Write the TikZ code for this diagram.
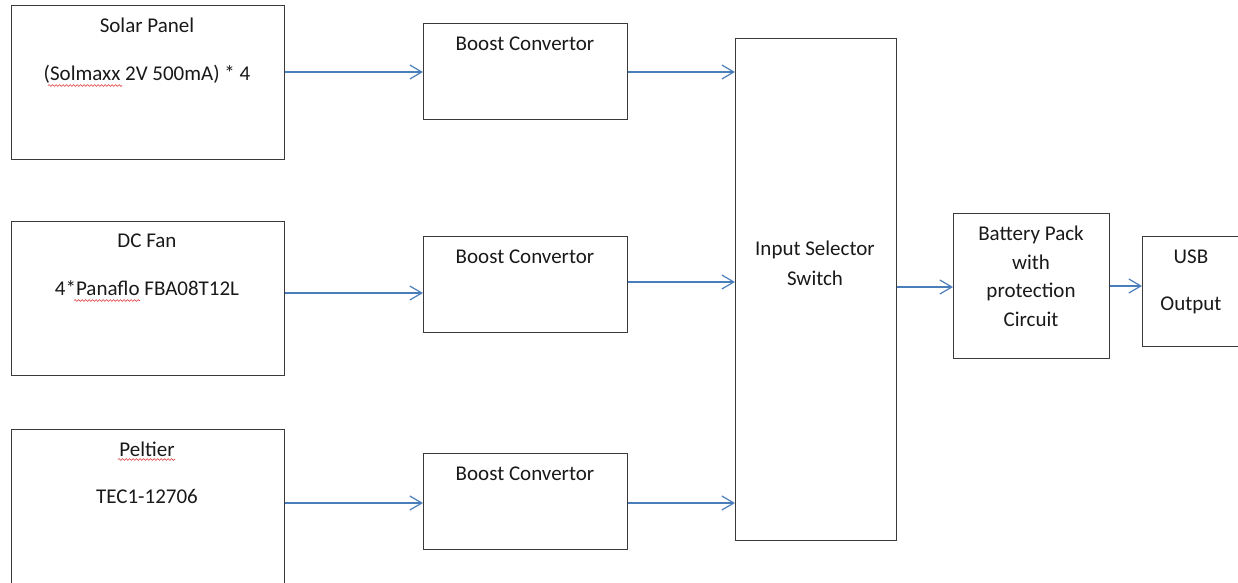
\documentclass[tikz,border=0pt]{standalone}
\usepackage{fontspec}
\setmainfont{Carlito}
\usetikzlibrary{arrows.meta,decorations.pathmorphing}
\definecolor{boxgray}{HTML}{3A3A3A}
\definecolor{arrblue}{HTML}{4A7EBB}
\definecolor{squigred}{HTML}{E03030}
\begin{document}
\begin{tikzpicture}[x=1pt,y=-1pt,
  box/.style={draw=boxgray,line width=1.4pt,inner sep=0pt,anchor=north west,fill=none},
  txt/.style={inner sep=0pt,anchor=base,font=\fontsize{21}{25}\selectfont,text=black!90},
  arr/.style={draw=arrblue,line width=1.2pt,-{Straight Barb[length=12pt,width=14pt,line width=1.2pt]}},
  squig/.style={draw=squigred,line width=0.6pt,decorate,decoration={snake,amplitude=0.9pt,segment length=3.5pt}}]
\useasboundingbox (0,0) rectangle (1238,582);
\clip (0,0) rectangle (1238,582);
% boxes
\node[box,minimum width=273pt,minimum height=154pt] (solar) at (11,5) {};
\node[box,minimum width=273pt,minimum height=154pt] (fan) at (11,221) {};
\node[box,minimum width=273pt,minimum height=200pt] (peltier) at (11,429) {};
\node[box,minimum width=204pt,minimum height=96pt] (boost1) at (423,23) {};
\node[box,minimum width=204pt,minimum height=96pt] (boost2) at (423,236) {};
\node[box,minimum width=204pt,minimum height=96pt] (boost3) at (423,453) {};
\node[box,minimum width=161pt,minimum height=502pt] (selector) at (735,38) {};
\node[box,minimum width=156pt,minimum height=145pt] (battery) at (953,213) {};
\node[box,minimum width=100pt,minimum height=110pt] (usb) at (1142,236) {};
% texts
\node[txt] (solarT1) at (147,32) {Solar Panel};
\node[txt] (solarT2) at (147,80) {(Solmaxx 2V 500mA) * 4};
\node[txt] (fanT1) at (147,247) {DC Fan};
\node[txt] (fanT2) at (147,295) {4*Panaflo FBA08T12L};
\node[txt] (peltT1) at (147,456) {Peltier};
\node[txt] (peltT2) at (147,503) {TEC1-12706};
\node[txt] (boost1T) at (525,50) {Boost Convertor};
\node[txt] (boost2T) at (525,263) {Boost Convertor};
\node[txt] (boost3T) at (525,480) {Boost Convertor};
\node[txt] (selT1) at (815,255) {Input Selector};
\node[txt] (selT2) at (815,285) {Switch};
\node[txt] (batT1) at (1031,240) {Battery Pack};
\node[txt] (batT2) at (1031,269) {with};
\node[txt] (batT3) at (1031,297) {protection};
\node[txt] (batT4) at (1031,326) {Circuit};
\node[txt] (usbT1) at (1191,263) {USB};
\node[txt] (usbT2) at (1191,310) {Output};
% spell-check underlines
\draw[squig] (48,85.5) -- (122,85.5);
\draw[squig] (74,300.5) -- (140,300.5);
\draw[squig] (118,459.5) -- (175,459.5);
% connector heights
\coordinate (yA) at (0,72);
\coordinate (yB) at (0,293);
\coordinate (yC) at (0,282);
\coordinate (yD) at (0,503);
\coordinate (yE) at (0,287);
\coordinate (yF) at (0,286);
% connectors
\draw[arr] (solar.east |- yA) -- (boost1.west |- yA);
\draw[arr] (boost1.east |- yA) -- (selector.west |- yA);
\draw[arr] (fan.east |- yB) -- (boost2.west |- yB);
\draw[arr] (boost2.east |- yC) -- (selector.west |- yC);
\draw[arr] (peltier.east |- yD) -- (boost3.west |- yD);
\draw[arr] (boost3.east |- yD) -- (selector.west |- yD);
\draw[arr] (selector.east |- yE) -- (battery.west |- yE);
\draw[arr] (battery.east |- yF) -- (usb.west |- yF);
\end{tikzpicture}
\end{document}
